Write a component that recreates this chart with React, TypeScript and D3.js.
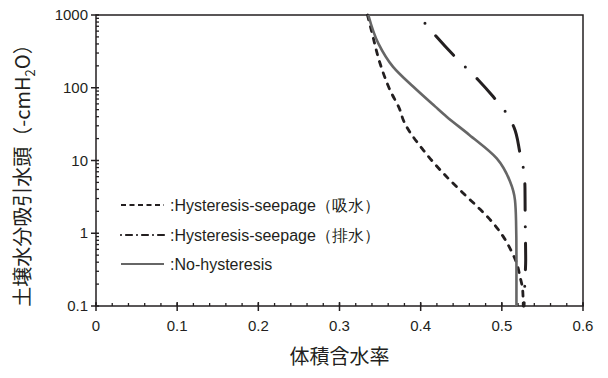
import React, { useEffect, useRef } from "react";
import * as d3 from "d3";

// volumetric water content (theta) vs suction head h (-cmH2O)
const noHystTheta = [0.3355, 0.3478, 0.366, 0.391, 0.418, 0.432, 0.460, 0.4937, 0.510, 0.5162, 0.5175, 0.518, 0.518];
const noHystHead = [1000, 408, 194, 103, 55, 40, 22.5, 10.7, 5.2, 2.86, 1.5, 0.5, 0.1];

const wetTheta = [0.3345, 0.3397, 0.3499, 0.3622, 0.3745, 0.3786, 0.4032, 0.4279, 0.4525, 0.4731, 0.4895, 0.5018, 0.5121, 0.5183, 0.5224, 0.5257, 0.5264];
const wetHead = [1000, 589, 217, 93, 49.4, 36, 13.9, 6.67, 3.54, 2.14, 1.37, 0.898, 0.558, 0.387, 0.253, 0.166, 0.1];

const dryTheta = [0.4053, 0.4176, 0.4423, 0.4567, 0.471, 0.4895, 0.5063, 0.515, 0.5224, 0.5273, 0.5285, 0.5287, 0.529, 0.5294, 0.5285, 0.5273];
const dryHead = [769, 531, 267, 185, 128, 75, 43.6, 28.6, 12.6, 6.9, 4.2, 2.09, 1.0, 0.43, 0.23, 0.1];

const xTicks = [0, 0.1, 0.2, 0.3, 0.4, 0.5, 0.6];
const yTicks = [0.1, 1, 10, 100, 1000];
const legendLabels = [":Hysteresis-seepage（吸水）", ":Hysteresis-seepage（排水）", ":No-hysteresis"];

const App = () => {
    const ref = useRef<SVGSVGElement>(null);

    useEffect(() => {
        const svg = d3.select(ref.current);
        svg.selectAll("*").remove();

        const left = 96, right = 583, top = 15, bottom = 306;
        const x = d3.scaleLinear().domain([0, 0.6]).range([left, right]);
        const y = d3.scaleLog().domain([0.1, 1000]).range([bottom, top]);
        const font = "Arial, 'Liberation Sans', sans-serif";
        const cjk = "'Noto Sans CJK JP', sans-serif";
        const ink = "#231f20";

        svg.append("rect").attr("width", 608).attr("height", 378).attr("fill", "white");

        // frame
        svg.append("rect")
            .attr("x", left).attr("y", top)
            .attr("width", right - left).attr("height", bottom - top)
            .attr("fill", "none").attr("stroke", ink).attr("stroke-width", 1.5);

        // x minor ticks (inside)
        const xMinor = d3.range(0, 0.6001, 0.02);
        svg.append("g").selectAll("line").data(xMinor).enter().append("line")
            .attr("x1", (d) => x(d)).attr("x2", (d) => x(d))
            .attr("y1", bottom).attr("y2", bottom - 3)
            .attr("stroke", ink).attr("stroke-width", 1.3);
        // x major ticks
        svg.append("g").selectAll("line").data(xTicks).enter().append("line")
            .attr("x1", (d) => x(d)).attr("x2", (d) => x(d))
            .attr("y1", bottom - 4).attr("y2", bottom + 5)
            .attr("stroke", ink).attr("stroke-width", 1.5);
        svg.append("g").selectAll("text").data(xTicks).enter().append("text")
            .attr("x", (d) => x(d)).attr("y", bottom + 25)
            .attr("text-anchor", "middle")
            .attr("font-family", font).attr("font-size", 15).attr("fill", ink)
            .text((d) => String(d));

        // y minor ticks (inside)
        const yMinor: number[] = [];
        [0.1, 1, 10, 100].forEach((dec) => {
            for (let k = 2; k <= 9; k++) yMinor.push(dec * k);
        });
        svg.append("g").selectAll("line").data(yMinor).enter().append("line")
            .attr("x1", left).attr("x2", left + 3)
            .attr("y1", (d) => y(d)).attr("y2", (d) => y(d))
            .attr("stroke", ink).attr("stroke-width", 1.3);
        svg.append("g").selectAll("line").data(yTicks).enter().append("line")
            .attr("x1", left - 5).attr("x2", left + 3)
            .attr("y1", (d) => y(d)).attr("y2", (d) => y(d))
            .attr("stroke", ink).attr("stroke-width", 1.5);
        svg.append("g").selectAll("text").data(yTicks).enter().append("text")
            .attr("x", left - 8).attr("y", (d) => y(d) + 5)
            .attr("text-anchor", "end")
            .attr("font-family", font).attr("font-size", 15).attr("fill", ink)
            .text((d) => String(d));

        // curves
        const line = d3.line<[number, number]>()
            .x((d) => x(d[0])).y((d) => y(d[1]))
            .curve(d3.curveMonotoneY);
        const zip = (t: number[], h: number[]) => t.map((v, i) => [v, h[i]] as [number, number]);

        svg.append("path").datum(zip(wetTheta, wetHead))
            .attr("d", line).attr("fill", "none")
            .attr("stroke", ink).attr("stroke-width", 2.8)
            .attr("stroke-linecap", "round")
            .attr("stroke-dasharray", "5,7");
        svg.append("path").datum(zip(dryTheta, dryHead))
            .attr("d", line).attr("fill", "none")
            .attr("stroke", ink).attr("stroke-width", 3)
            .attr("stroke-linecap", "round")
            .attr("stroke-dasharray", "0,16.5,26.5,16.5");
        svg.append("path").datum(zip(noHystTheta, noHystHead))
            .attr("d", line).attr("fill", "none")
            .attr("stroke", "#666666").attr("stroke-width", 2.6);

        // legend
        const rows = [205, 235, 264];
        const styles = [
            { stroke: ink, dash: "5,3.5", w: 2, cap: "butt" },
            { stroke: ink, dash: "0,5,6,5", w: 2.2, cap: "round" },
            { stroke: "#666666", dash: null, w: 2, cap: "butt" },
        ];
        legendLabels.forEach((lab, i) => {
            svg.append("line")
                .attr("x1", 121).attr("x2", 164)
                .attr("y1", rows[i]).attr("y2", rows[i])
                .attr("stroke", styles[i].stroke).attr("stroke-width", styles[i].w)
                .attr("stroke-linecap", styles[i].cap)
                .attr("stroke-dasharray", styles[i].dash);
            svg.append("text")
                .attr("x", 170).attr("y", rows[i] + 6)
                .attr("font-family", font).attr("font-size", 16).attr("fill", ink)
                .text(lab);
        });

        // axis titles
        svg.append("text")
            .attr("x", (left + right) / 2).attr("y", 364)
            .attr("text-anchor", "middle")
            .attr("font-family", cjk).attr("font-size", 20).attr("fill", ink)
            .text("体積含水率");

        const yt = svg.append("text")
            .attr("transform", "translate(30," + ((top + bottom) / 2 + 10) + ") rotate(-90)")
            .attr("text-anchor", "middle")
            .attr("font-family", cjk).attr("font-size", 20).attr("fill", ink);
        yt.append("tspan").text("土壌水分吸引水頭（-cmH");
        yt.append("tspan").attr("font-size", 13).attr("dy", 5).text("2");
        yt.append("tspan").attr("dy", -5).text("O）");
    }, []);

    return (
        <svg
            ref={ref}
            width={608}
            height={378}
            style={{ position: "absolute", left: 0, top: 0 }}
        ></svg>
    );
};

export default App;
